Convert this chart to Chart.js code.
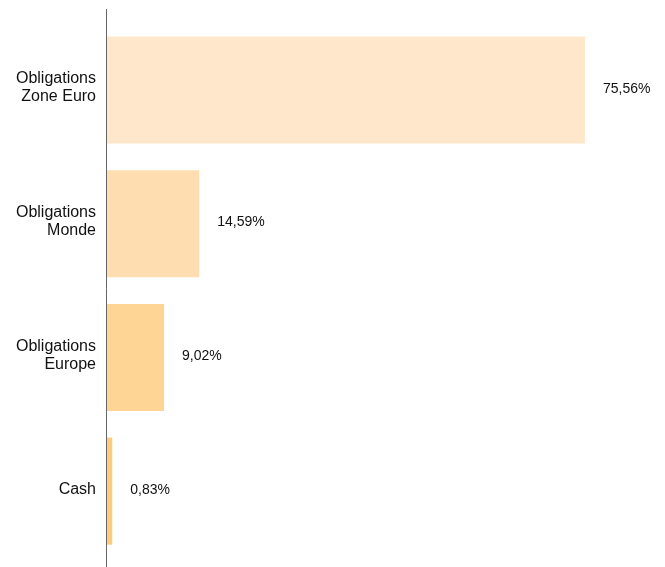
<!DOCTYPE html>
<html>
<head>
<meta charset="utf-8">
<script src="https://cdn.jsdelivr.net/npm/chart.js@4/dist/chart.umd.min.js"></script>
<style>
html,body{margin:0;padding:0;background:#fff;overflow:hidden;}
canvas{display:block;}
</style>
</head>
<body>
<canvas id="c" width="665" height="567" style="width:665px;height:567px"></canvas>
<script>
const categories = [["Obligations","Zone Euro"],["Obligations","Monde"],["Obligations","Europe"],["Cash"]];
const values = [75.56, 14.59, 9.02, 0.83];
const valueLabels = ["75,56%","14,59%","9,02%","0,83%"];
const barColors = ["#FEE7CA","#FEDEB1","#FED595","#FECC7B"];

const valuePlugin = {
  id: 'valueLabels',
  afterDatasetsDraw(chart) {
    const ctx = chart.ctx;
    const meta = chart.getDatasetMeta(0);
    ctx.save();
    ctx.font = '14px "Liberation Sans", Arial, sans-serif';
    ctx.fillStyle = '#111';
    ctx.textAlign = 'left';
    ctx.textBaseline = 'middle';
    meta.data.forEach((bar, i) => {
      ctx.fillText(valueLabels[i], bar.x + 18, bar.y - 1);
    });
    ctx.restore();
  }
};

const axisLinePlugin = {
  id: 'axisLine',
  afterDraw(chart) {
    const ctx = chart.ctx;
    const a = chart.chartArea;
    ctx.save();
    ctx.strokeStyle = '#666';
    ctx.lineWidth = 1;
    ctx.beginPath();
    ctx.moveTo(a.left - 0.5, a.top - 14);
    ctx.lineTo(a.left - 0.5, a.bottom + 10);
    ctx.stroke();
    ctx.restore();
  }
};

new Chart(document.getElementById('c'), {
  type: 'bar',
  data: {
    labels: categories,
    datasets: [{
      data: values,
      backgroundColor: barColors,
      borderWidth: 0,
      barPercentage: 0.8,
      categoryPercentage: 1.0
    }]
  },
  options: {
    indexAxis: 'y',
    responsive: false,
    devicePixelRatio: 1,
    animation: false,
    layout: { padding: { top: 23, bottom: 9, right: 52, left: 0 } },
    plugins: { legend: { display: false }, tooltip: { enabled: false } },
    scales: {
      x: {
        min: 0, max: 80,
        display: false
      },
      y: {
        grid: { display: false, drawTicks: false },
        border: { display: false },
        afterFit(scale) {
          scale.width = 107;
          scale.paddingTop = 0;
          scale.paddingBottom = 0;
        },
        ticks: {
          color: '#111',
          padding: 11,
          labelOffset: -2,
          font: { family: '"Liberation Sans", Arial, sans-serif', size: 16, lineHeight: 1.125 }
        }
      }
    }
  },
  plugins: [valuePlugin, axisLinePlugin]
});
</script>
</body>
</html>
